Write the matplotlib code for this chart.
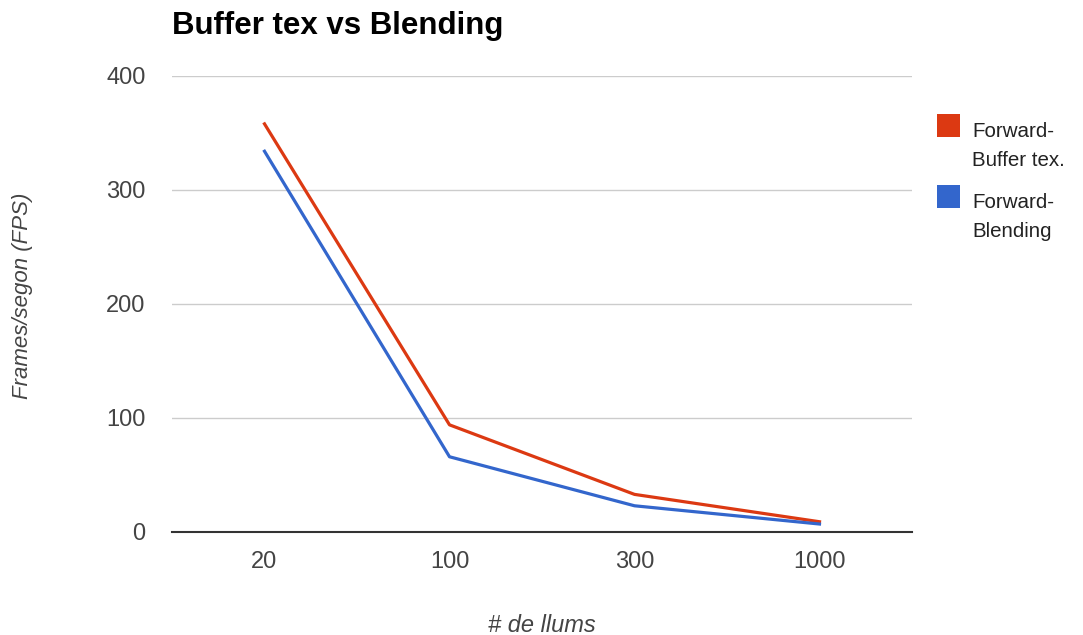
import matplotlib.pyplot as plt
from matplotlib.patches import Rectangle

# Data
llums = ['20', '100', '300', '1000']
buffer_tex = [358, 94, 33, 9]
blending = [334, 66, 23, 7]

series_names = ['Forward-\nBuffer tex.', 'Forward-\nBlending']
series_colors = ['#dc3912', '#3366cc']

plt.rcParams['font.family'] = ['Liberation Sans', 'DejaVu Sans']

fig = plt.figure(figsize=(10.83, 6.35), dpi=100)
ax = fig.add_axes([172 / 1083, 1 - 532 / 635, 740 / 1083, 456 / 635])

x = range(len(llums))
ax.plot(x, buffer_tex, color=series_colors[0], linewidth=2.3, solid_joinstyle='round')
ax.plot(x, blending, color=series_colors[1], linewidth=2.3, solid_joinstyle='round')

ax.set_xlim(-0.5, len(llums) - 0.5)
ax.set_ylim(0, 400)
ax.set_yticks([0, 100, 200, 300, 400])
ax.set_xticks(list(x))
ax.set_xticklabels(llums)

# Grid and baseline
for v in [100, 200, 300, 400]:
    ax.axhline(v, color='#cccccc', linewidth=1, zorder=0)
ax.axhline(0, color='#333333', linewidth=1.5, zorder=3, clip_on=False)

for s in ax.spines.values():
    s.set_visible(False)
ax.tick_params(axis='both', length=0, labelsize=17, labelcolor='#444444')
ax.tick_params(axis='y', pad=19)
ax.tick_params(axis='x', pad=14)

# Title
fig.text(172 / 1083, 1 - 34 / 635, 'Buffer tex vs Blending', fontsize=22.5,
         fontweight='bold', color='#000000', va='baseline', ha='left')

# Axis titles
fig.text(542 / 1083, 1 - 632 / 635, '# de llums', fontsize=17, style='italic',
         color='#444444', ha='center', va='baseline')
fig.text(23 / 1083, 1 - 296 / 635, 'Frames/segon (FPS)', fontsize=16, style='italic',
         color='#444444', ha='center', va='center', rotation=90)

# Legend
legend_tops = [114, 185]
for name, color, top in zip(series_names, series_colors, legend_tops):
    fig.add_artist(Rectangle((937 / 1083, 1 - (top + 23) / 635), 23 / 1083, 23 / 635,
                             transform=fig.transFigure, facecolor=color, edgecolor='none'))
    lines = name.split('\n')
    for i, line in enumerate(lines):
        fig.text(972 / 1083, 1 - (top + 23 + i * 29) / 635, line, fontsize=14.8,
                 color='#222222', ha='left', va='baseline')

fig.savefig('out.png', dpi=100)
